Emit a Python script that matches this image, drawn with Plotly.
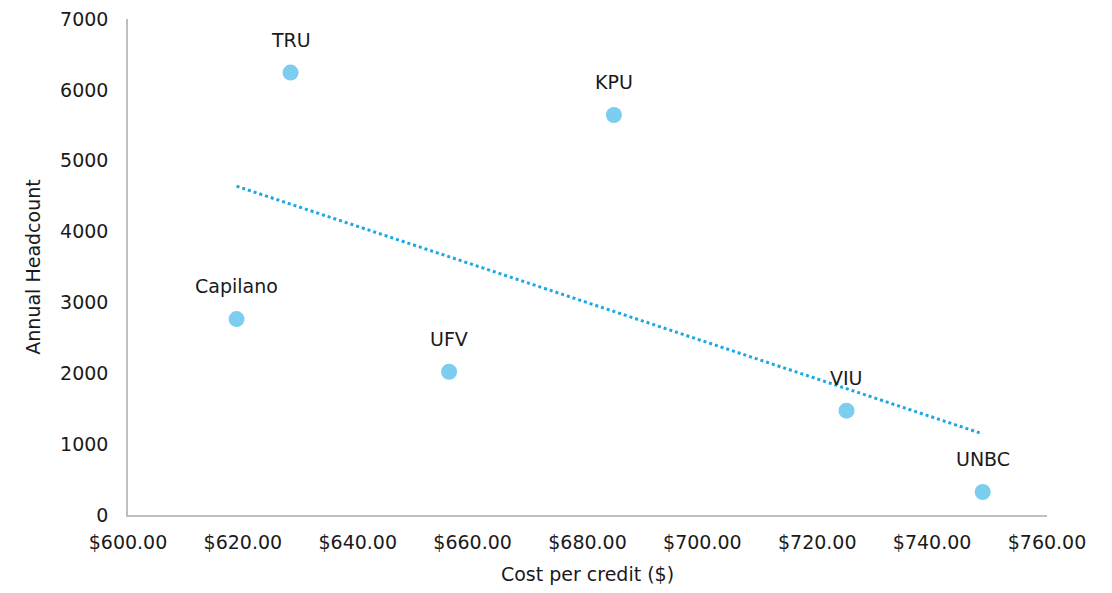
import numpy as np
import plotly.graph_objects as go

institutions = ["TRU", "KPU", "Capilano", "UFV", "VIU", "UNBC"]
cost_per_credit = [628.3, 684.6, 618.9, 655.9, 725.1, 748.8]
annual_headcount = [6244, 5645, 2765, 2022, 1472, 325]

x_ticks = [600, 620, 640, 660, 680, 700, 720, 740, 760]
x_tick_labels = ["$%.2f" % v for v in x_ticks]
y_ticks = [0, 1000, 2000, 3000, 4000, 5000, 6000, 7000]

FONT = "DejaVu Sans"
TXT = "#1a1a1a"

# Linear (OLS) trendline over the data range
slope, intercept = np.polyfit(cost_per_credit, annual_headcount, 1)
tx = np.array([min(cost_per_credit), max(cost_per_credit)])
ty = slope * tx + intercept

fig = go.Figure()
fig.add_trace(go.Scatter(
    x=tx, y=ty, mode="lines",
    line=dict(color="#1CA8E4", width=3, dash="dot"),
    hoverinfo="skip", showlegend=False,
))
fig.add_trace(go.Scatter(
    x=cost_per_credit, y=annual_headcount, mode="markers",
    marker=dict(color="#7BCEF0", size=16, line=dict(width=0)),
    showlegend=False,
))

for name, xv, yv in zip(institutions, cost_per_credit, annual_headcount):
    fig.add_annotation(x=xv, y=yv, text=name, showarrow=False, yshift=33,
                       font=dict(family=FONT, size=19, color=TXT))

fig.update_layout(
    width=1112, height=593,
    margin=dict(l=120, r=73, t=11, b=86, autoexpand=False),
    paper_bgcolor="white", plot_bgcolor="white",
    font=dict(family=FONT, size=18, color=TXT),
    xaxis=dict(
        range=[600, 760], tickvals=x_ticks, ticktext=x_tick_labels,
        showgrid=False, zeroline=False, showline=True, linecolor="#BFBFBF", linewidth=1.5,
        ticks="", ticklabelstandoff=9, automargin=False, ticklabeloverflow="allow",
        title=dict(text="Cost per credit ($)", font=dict(family=FONT, size=19, color=TXT), standoff=16),
        tickfont=dict(family=FONT, size=19, color=TXT),
    ),
    yaxis=dict(
        range=[0, 7000], tickvals=y_ticks,
        showgrid=False, zeroline=False, showline=True, linecolor="#BFBFBF", linewidth=1.5,
        ticks="", ticklabelstandoff=14, automargin=False, ticklabeloverflow="allow",
        title=dict(text="Annual Headcount", font=dict(family=FONT, size=19, color=TXT), standoff=14),
        tickfont=dict(family=FONT, size=19, color=TXT),
    ),
)

fig.write_html("out.html")
